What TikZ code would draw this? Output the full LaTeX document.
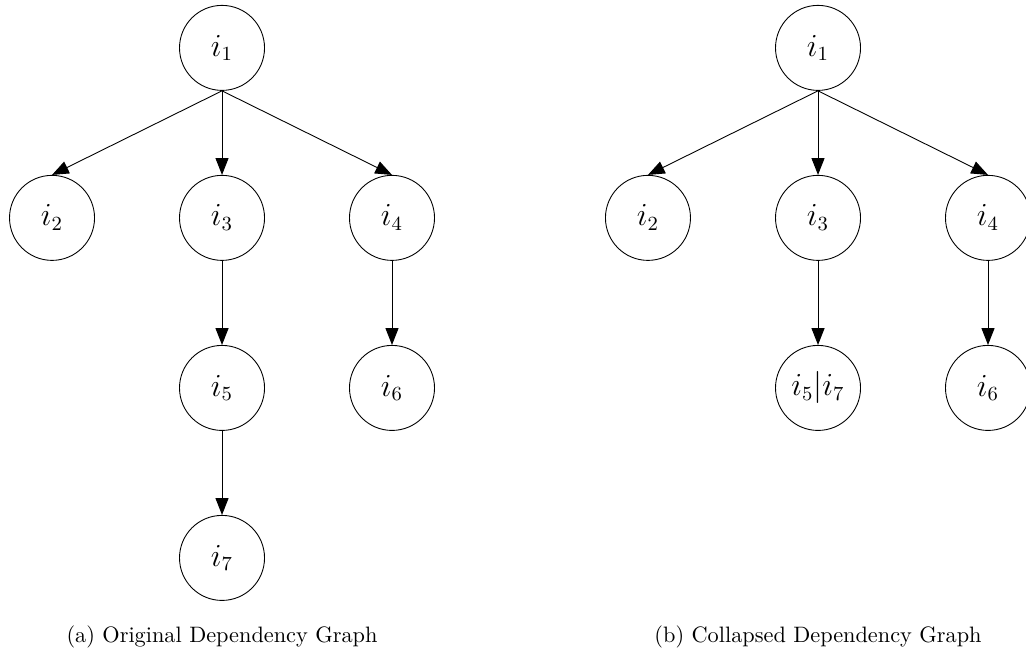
\documentclass[tikz,border=0pt]{standalone}
\usepackage{tikz}
\usetikzlibrary{arrows.meta}
\usetikzlibrary{positioning}

\begin{document}
\begin{tikzpicture}[dep/.style={circle,draw,thin,minimum size=1.34cm,inner sep=0pt,font=\fontsize{13.5}{16}\selectfont},
                    dedge/.style={-{Triangle[length=7.5pt,width=5.8pt]},thin}]
\useasboundingbox (0,0) rectangle (16.17,10.29);

% original graph
\node[dep] (a1) at (3.499, 9.535) {$i_1$};
\node[dep] (a2) at (0.820, 6.856) {$i_2$};
\node[dep] (a3) at (3.499, 6.856) {$i_3$};
\node[dep] (a4) at (6.178, 6.856) {$i_4$};
\node[dep] (a5) at (3.499, 4.176) {$i_5$};
\node[dep] (a6) at (6.178, 4.176) {$i_6$};
\node[dep] (a7) at (3.499, 1.497) {$i_7$};
\draw[dedge] (a1.south) -- (a2.north);
\draw[dedge] (a1.south) -- (a3.north);
\draw[dedge] (a1.south) -- (a4.north);
\draw[dedge] (a3.south) -- (a5.north);
\draw[dedge] (a4.south) -- (a6.north);
\draw[dedge] (a5.south) -- (a7.north);
\node[anchor=base] (capa) at (3.499, 0.16) {(a) Original Dependency Graph};

% collapsed graph
\node[dep] (b1) at (12.892, 9.535) {$i_1$};
\node[dep] (b2) at (10.212, 6.856) {$i_2$};
\node[dep] (b3) at (12.892, 6.856) {$i_3$};
\node[dep] (b4) at (15.571, 6.856) {$i_4$};
\node[dep] (b57) at (12.892, 4.176) {$i_5|i_7$};
\node[dep] (b6) at (15.571, 4.176) {$i_6$};
\draw[dedge] (b1.south) -- (b2.north);
\draw[dedge] (b1.south) -- (b3.north);
\draw[dedge] (b1.south) -- (b4.north);
\draw[dedge] (b3.south) -- (b57.north);
\draw[dedge] (b4.south) -- (b6.north);
\node[anchor=base] (capb) at (12.892, 0.16) {(b) Collapsed Dependency Graph};

\end{tikzpicture}
\end{document}
